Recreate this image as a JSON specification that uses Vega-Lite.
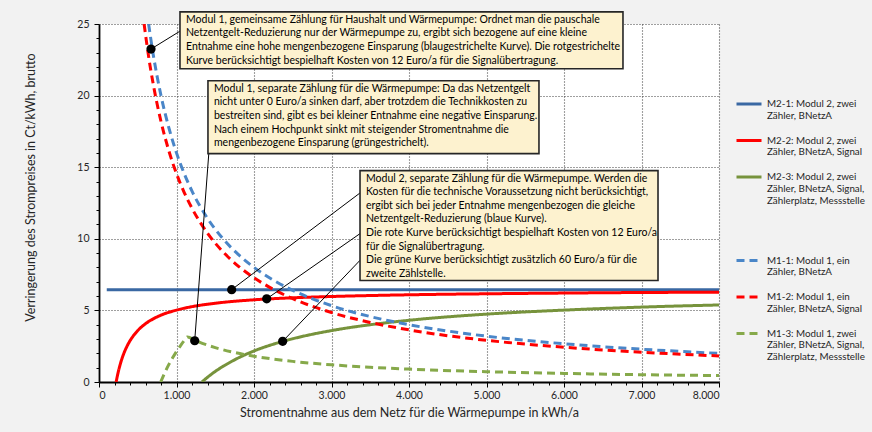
{
  "$schema": "https://vega.github.io/schema/vega-lite/v6.json",
  "autosize": {"type": "none"},
  "width": 620,
  "height": 358,
  "padding": {"left": 99, "top": 24, "right": 153, "bottom": 50},
  "background": "#f2f2f2",
  "config": {
    "font": "Lato",
    "view": {"fill": "white", "stroke": null}
  },
  "datasets": {
    "curves": [
      {"s": "M2-1", "x": 100, "y": 6.45}, {"s": "M2-1", "x": 8000, "y": 6.45},
      {"s": "M2-2", "x": 221, "y": 0}, {"s": "M2-2", "x": 240, "y": 0.5}, {"s": "M2-2", "x": 260, "y": 0.96},
      {"s": "M2-2", "x": 280, "y": 1.35}, {"s": "M2-2", "x": 300, "y": 1.69}, {"s": "M2-2", "x": 350, "y": 2.37},
      {"s": "M2-2", "x": 400, "y": 2.88}, {"s": "M2-2", "x": 500, "y": 3.59}, {"s": "M2-2", "x": 600, "y": 4.07},
      {"s": "M2-2", "x": 700, "y": 4.41}, {"s": "M2-2", "x": 800, "y": 4.67}, {"s": "M2-2", "x": 1000, "y": 5.02},
      {"s": "M2-2", "x": 1250, "y": 5.31}, {"s": "M2-2", "x": 1500, "y": 5.5}, {"s": "M2-2", "x": 2000, "y": 5.74},
      {"s": "M2-2", "x": 2500, "y": 5.88}, {"s": "M2-2", "x": 3000, "y": 5.97}, {"s": "M2-2", "x": 4000, "y": 6.09},
      {"s": "M2-2", "x": 5000, "y": 6.16}, {"s": "M2-2", "x": 6000, "y": 6.21}, {"s": "M2-2", "x": 7000, "y": 6.25},
      {"s": "M2-2", "x": 8000, "y": 6.27},
      {"s": "M2-3", "x": 1328, "y": 0}, {"s": "M2-3", "x": 1360, "y": 0.15}, {"s": "M2-3", "x": 1400, "y": 0.33},
      {"s": "M2-3", "x": 1500, "y": 0.74}, {"s": "M2-3", "x": 1600, "y": 1.09}, {"s": "M2-3", "x": 1750, "y": 1.55},
      {"s": "M2-3", "x": 2000, "y": 2.17}, {"s": "M2-3", "x": 2250, "y": 2.64}, {"s": "M2-3", "x": 2500, "y": 3.02},
      {"s": "M2-3", "x": 3000, "y": 3.59}, {"s": "M2-3", "x": 3500, "y": 4.0}, {"s": "M2-3", "x": 4000, "y": 4.31},
      {"s": "M2-3", "x": 5000, "y": 4.74}, {"s": "M2-3", "x": 6000, "y": 5.02}, {"s": "M2-3", "x": 7000, "y": 5.23},
      {"s": "M2-3", "x": 8000, "y": 5.38},
      {"s": "M1-1", "x": 640, "y": 25.0}, {"s": "M1-1", "x": 700, "y": 22.86}, {"s": "M1-1", "x": 800, "y": 20.0},
      {"s": "M1-1", "x": 900, "y": 17.78}, {"s": "M1-1", "x": 1000, "y": 16.0}, {"s": "M1-1", "x": 1100, "y": 14.55},
      {"s": "M1-1", "x": 1200, "y": 13.33}, {"s": "M1-1", "x": 1400, "y": 11.43}, {"s": "M1-1", "x": 1600, "y": 10.0},
      {"s": "M1-1", "x": 1800, "y": 8.89}, {"s": "M1-1", "x": 2000, "y": 8.0}, {"s": "M1-1", "x": 2250, "y": 7.11},
      {"s": "M1-1", "x": 2500, "y": 6.4}, {"s": "M1-1", "x": 3000, "y": 5.33}, {"s": "M1-1", "x": 3500, "y": 4.57},
      {"s": "M1-1", "x": 4000, "y": 4.0}, {"s": "M1-1", "x": 4500, "y": 3.56}, {"s": "M1-1", "x": 5000, "y": 3.2},
      {"s": "M1-1", "x": 6000, "y": 2.67}, {"s": "M1-1", "x": 7000, "y": 2.29}, {"s": "M1-1", "x": 8000, "y": 2.0},
      {"s": "M1-2", "x": 582, "y": 25.0}, {"s": "M1-2", "x": 650, "y": 22.38}, {"s": "M1-2", "x": 700, "y": 20.79},
      {"s": "M1-2", "x": 800, "y": 18.19}, {"s": "M1-2", "x": 900, "y": 16.17}, {"s": "M1-2", "x": 1000, "y": 14.55},
      {"s": "M1-2", "x": 1100, "y": 13.23}, {"s": "M1-2", "x": 1200, "y": 12.13}, {"s": "M1-2", "x": 1400, "y": 10.39},
      {"s": "M1-2", "x": 1600, "y": 9.09}, {"s": "M1-2", "x": 1800, "y": 8.08}, {"s": "M1-2", "x": 2000, "y": 7.28},
      {"s": "M1-2", "x": 2250, "y": 6.47}, {"s": "M1-2", "x": 2500, "y": 5.82}, {"s": "M1-2", "x": 3000, "y": 4.85},
      {"s": "M1-2", "x": 3500, "y": 4.16}, {"s": "M1-2", "x": 4000, "y": 3.64}, {"s": "M1-2", "x": 4500, "y": 3.23},
      {"s": "M1-2", "x": 5000, "y": 2.91}, {"s": "M1-2", "x": 6000, "y": 2.43}, {"s": "M1-2", "x": 7000, "y": 2.08},
      {"s": "M1-2", "x": 8000, "y": 1.82},
      {"s": "M1-3", "x": 796, "y": 0}, {"s": "M1-3", "x": 850, "y": 0.66}, {"s": "M1-3", "x": 900, "y": 1.21},
      {"s": "M1-3", "x": 950, "y": 1.69}, {"s": "M1-3", "x": 1000, "y": 2.13}, {"s": "M1-3", "x": 1050, "y": 2.53},
      {"s": "M1-3", "x": 1100, "y": 2.89}, {"s": "M1-3", "x": 1140, "y": 3.15}, {"s": "M1-3", "x": 1250, "y": 2.88},
      {"s": "M1-3", "x": 1500, "y": 2.4}, {"s": "M1-3", "x": 1750, "y": 2.06}, {"s": "M1-3", "x": 2000, "y": 1.8},
      {"s": "M1-3", "x": 2500, "y": 1.44}, {"s": "M1-3", "x": 3000, "y": 1.2}, {"s": "M1-3", "x": 3500, "y": 1.03},
      {"s": "M1-3", "x": 4000, "y": 0.9}, {"s": "M1-3", "x": 5000, "y": 0.72}, {"s": "M1-3", "x": 6000, "y": 0.6},
      {"s": "M1-3", "x": 7000, "y": 0.51}, {"s": "M1-3", "x": 8000, "y": 0.45}
    ],
    "callouts": [
      {"x": 671, "y": 23.25, "x2": 1045, "y2": 24.5},
      {"x": 1235, "y": 2.88, "x2": 1420, "y2": 16.2},
      {"x": 1712, "y": 6.45, "x2": 3370, "y2": 13.21},
      {"x": 2164, "y": 5.81, "x2": 3370, "y2": 10.37},
      {"x": 2370, "y": 2.84, "x2": 3370, "y2": 8.51}
    ],
    "notes": [
      {"x": 1045, "x2": 6761, "y": 25.85, "y2": 21.88,
       "text": "Modul 1, gemeinsame Zählung für Haushalt und Wärmepumpe: Ordnet man die pauschale|Netzentgelt-Reduzierung nur der Wärmepumpe zu, ergibt sich bezogene auf eine kleine|Entnahme eine hohe mengenbezogene Einsparung (blaugestrichelte Kurve). Die rotgestrichelte|Kurve berücksichtigt bespielhaft Kosten von 12 Euro/a für die Signalübertragung."},
      {"x": 1406, "x2": 5677, "y": 21.04, "y2": 15.95,
       "text": "Modul 1, separate Zählung für die Wärmepumpe: Da das Netzentgelt|nicht unter 0 Euro/a sinken darf, aber trotzdem die Technikkosten zu|bestreiten sind, gibt es bei kleiner Entnahme eine negative Einsparung.|Nach einem Hochpunkt sinkt mit steigender Stromentnahme die|mengenbezogene Einsparung (grüngestrichelt)."},
      {"x": 3368, "x2": 7213, "y": 14.76, "y2": 7.09,
       "text": "Modul 2, separate Zählung für die Wärmepumpe. Werden die|Kosten für die technische Voraussetzung nicht berücksichtigt,|ergibt sich bei jeder Entnahme mengenbezogen die gleiche|Netzentgelt-Reduzierung (blaue Kurve).|Die rote Kurve berücksichtigt bespielhaft Kosten von 12 Euro/a|für die Signalübertragung.|Die grüne Kurve berücksichtigt zusätzlich 60 Euro/a für die|zweite Zählstelle."}
    ]
  },
  "encoding": {
    "x": {
      "field": "x",
      "type": "quantitative",
      "scale": {"domain": [0, 8000], "nice": false, "zero": false},
      "axis": {
        "title": "Stromentnahme aus dem Netz für die Wärmepumpe in kWh/a",
        "titleFont": "Lato",
        "titleFontSize": 12.5,
        "titleFontWeight": "normal",
        "titleColor": "#262626",
        "titlePadding": 6,
        "values": [0, 200, 400, 600, 800, 1000, 1200, 1400, 1600, 1800, 2000, 2200, 2400, 2600, 2800, 3000, 3200, 3400, 3600, 3800, 4000, 4200, 4400, 4600, 4800, 5000, 5200, 5400, 5600, 5800, 6000, 6200, 6400, 6600, 6800, 7000, 7200, 7400, 7600, 7800, 8000],
        "labelExpr": "datum.value % 1000 === 0 ? replace(format(datum.value, ','), ',', '.') : ''",
        "labelOverlap": false,
        "labelBound": false,
        "labelFontSize": 10.5,
        "labelColor": "#262626",
        "labelPadding": 3,
        "tickColor": "black",
        "tickWidth": 1,
        "tickSize": {"condition": {"test": "datum.value % 1000 === 0", "value": 5}, "value": 3},
        "domainColor": "black",
        "domainWidth": 1.8,
        "grid": true,
        "gridColor": "#404040",
        "gridDash": [1, 2],
        "gridWidth": 1.1,
        "gridOpacity": {"condition": {"test": "datum.value % 1000 === 0 && datum.value > 0", "value": 1}, "value": 0}
      }
    },
    "y": {
      "field": "y",
      "type": "quantitative",
      "scale": {"domain": [0, 25], "nice": false},
      "axis": {
        "title": "Verringerung des Strompreises  in Ct/kWh, brutto",
        "titleFont": "Lato",
        "titleFontSize": 12.5,
        "titleFontWeight": "normal",
        "titleColor": "#262626",
        "titleBaseline": "middle",
        "titleX": -69,
        "titleY": 163,
        "values": [0, 1, 2, 3, 4, 5, 6, 7, 8, 9, 10, 11, 12, 13, 14, 15, 16, 17, 18, 19, 20, 21, 22, 23, 24, 25],
        "labelExpr": "datum.value % 5 === 0 ? format(datum.value, 'd') : ''",
        "labelOverlap": false,
        "labelBound": false,
        "labelFontSize": 10.5,
        "labelColor": "#262626",
        "labelPadding": 5,
        "tickColor": "black",
        "tickWidth": 1,
        "tickSize": {"condition": {"test": "datum.value % 5 === 0", "value": 5}, "value": 3},
        "domainColor": "black",
        "domainWidth": 1.8,
        "grid": true,
        "gridColor": "#404040",
        "gridDash": [1, 2],
        "gridWidth": 1.1,
        "gridOpacity": {"condition": {"test": "datum.value % 5 === 0 && datum.value > 0", "value": 1}, "value": 0}
      }
    }
  },
  "layer": [
    {
      "data": {"name": "curves"},
      "mark": {"type": "line", "strokeWidth": 3, "interpolate": "monotone", "clip": true},
      "encoding": {
        "color": {
          "field": "s",
          "type": "nominal",
          "scale": {
            "domain": ["M2-1", "M2-2", "M2-3", "M1-1", "M1-2", "M1-3"],
            "range": ["#3a68a3", "#ff0000", "#77933c", "#4a86c8", "#ff0000", "#86a94a"]
          },
          "legend": {
            "title": null,
            "orient": "none",
            "legendX": 636,
            "legendY": 66,
            "padding": 0,
            "symbolType": "stroke",
            "symbolSize": 625,
            "symbolStrokeWidth": 3,
            "labelOffset": 4,
            "labelFont": "Lato",
            "labelFontSize": 9.8,
            "labelColor": "#262626",
            "labelLineHeight": 12.7,
            "labelLimit": 200,
            "rowPadding": 5.5,
            "labelExpr": "datum.label == 'M2-1' ? ['M2-1: Modul 2, zwei', 'Zähler, BNetzA'] : datum.label == 'M2-2' ? ['M2-2: Modul 2, zwei', 'Zähler, BNetzA, Signal'] : datum.label == 'M2-3' ? ['M2-3: Modul 2, zwei', 'Zähler, BNetzA, Signal,', 'Zählerplatz, Messstelle', '', '', ''] : datum.label == 'M1-1' ? ['M1-1: Modul 1, ein', 'Zähler, BNetzA'] : datum.label == 'M1-2' ? ['M1-2: Modul 1, ein', 'Zähler, BNetzA, Signal'] : ['M1-3: Modul 1, zwei', 'Zähler, BNetzA, Signal,', 'Zählerplatz, Messstelle']"
          }
        },
        "strokeDash": {
          "field": "s",
          "type": "nominal",
          "scale": {
            "domain": ["M2-1", "M2-2", "M2-3", "M1-1", "M1-2", "M1-3"],
            "range": [[1, 0], [1, 0], [1, 0], [8, 5], [8, 5], [8, 5]]
          },
          "legend": {"title": null}
        }
      }
    },
    {
      "data": {"name": "callouts"},
      "mark": {"type": "rule", "color": "black", "strokeWidth": 1},
      "encoding": {
        "x2": {"field": "x2"},
        "y2": {"field": "y2"}
      }
    },
    {
      "data": {"name": "callouts"},
      "mark": {"type": "circle", "color": "black", "opacity": 1, "size": 85}
    },
    {
      "data": {"name": "notes"},
      "mark": {"type": "rect", "fill": "#fdf2cf", "stroke": "#262626", "strokeWidth": 1.6},
      "encoding": {
        "x2": {"field": "x2"},
        "y2": {"field": "y2"}
      }
    },
    {
      "data": {"name": "notes"},
      "mark": {"type": "text", "align": "left", "baseline": "top", "dx": 6, "dy": 3, "lineBreak": "|", "lineHeight": 13.6, "font": "Lato", "fontSize": 10.5, "color": "black"},
      "encoding": {
        "text": {"field": "text", "type": "nominal"}
      }
    }
  ]
}
